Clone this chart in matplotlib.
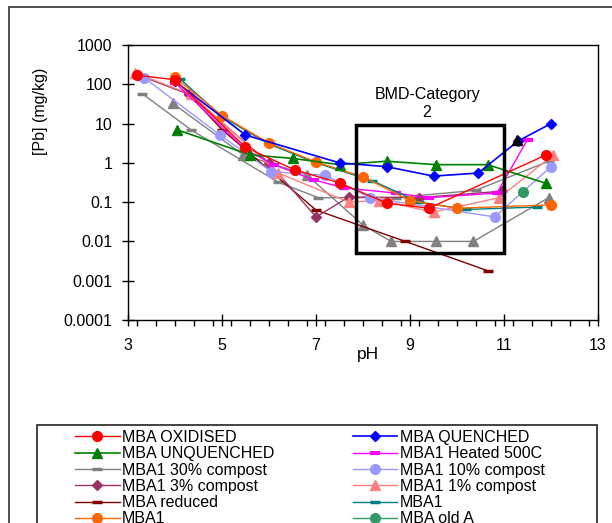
import numpy as np
import matplotlib
matplotlib.use("Agg")
import matplotlib.pyplot as plt
from matplotlib.patches import Rectangle
from matplotlib.ticker import FixedLocator, MultipleLocator, FuncFormatter

plt.rcParams['font.family'] = ['Liberation Sans', 'DejaVu Sans']

# pH / [Pb] (mg/kg)
ox_ph = [3.2, 4.0, 5.5, 6.55, 7.5, 8.5, 9.4, 11.9]
ox_pb = [170, 130, 2.5, 0.66, 0.31, 0.095, 0.07, 1.6]

qu_ph = [4.0, 5.5, 7.5, 8.5, 9.5, 10.45, 11.3, 12.0]
qu_pb = [120, 5.1, 1.0, 0.8, 0.46, 0.55, 3.6, 10.0]

unq_ph = [4.05, 5.6, 6.5, 7.5, 8.5, 9.55, 10.65, 11.9]
unq_pb = [6.9, 1.6, 1.3, 0.9, 1.1, 0.9, 0.9, 0.3]

heat_ph = [4.0, 5.5, 6.1, 6.95, 7.6, 8.7, 9.4, 10.85, 11.5]
heat_pb = [110, 2.2, 0.9, 0.37, 0.23, 0.17, 0.13, 0.17, 3.9]

c30_ph = [3.3, 4.35, 6.2, 7.05, 8.7, 10.4, 11.95]
c30_pb = [58, 6.8, 0.32, 0.13, 0.13, 0.2, 1.1]

c10_ph = [3.35, 4.95, 6.05, 7.2, 8.15, 10.8, 12.0]
c10_pb = [145, 5.2, 0.6, 0.48, 0.13, 0.042, 0.8]

c3_ph = [3.2, 4.3, 6.0, 7.0, 7.7, 9.2, 10.95]
c3_pb = [175, 55, 1.0, 0.042, 0.135, 0.13, 0.19]

c1_ph = [3.15, 4.35, 6.2, 7.7, 8.35, 9.5, 10.9, 12.05]
c1_pb = [195, 55, 0.55, 0.1, 0.11, 0.056, 0.13, 1.6]

red_ph = [4.3, 5.0, 7.0, 8.9, 10.65]
red_pb = [55, 7.0, 0.063, 0.01, 0.0018]

teal_ph = [4.1, 5.0, 6.0, 7.0, 8.2, 9.2, 10.2, 11.7]
teal_pb = [140, 15, 3.0, 1.0, 0.35, 0.1, 0.065, 0.075]

mba1_ph = [4.0, 5.0, 6.0, 7.0, 8.0, 9.0, 10.0, 12.0]
mba1_pb = [150, 16, 3.2, 1.05, 0.44, 0.11, 0.07, 0.085]

olda_ph = [11.4]
olda_pb = [0.18]

gtri_ph = [3.95, 5.45, 6.8, 8.0, 8.6, 9.55, 10.35, 11.95]
gtri_pb = [33, 1.6, 0.5, 0.026, 0.01, 0.01, 0.01, 0.13]

blk_ph = [11.28]
blk_pb = [3.8]

fig = plt.figure(figsize=(6.12, 5.23), dpi=100)
ax = fig.add_axes([128/612, 1-320/523, 470/612, 275/523])

lines = {}
def series(key, x, y, color, marker, ms=7, lw=1.0, label=None, mew=1.0):
    l, = ax.plot(x, y, color=color, marker=marker, markersize=ms, lw=lw,
                 markeredgewidth=mew, label=label)
    lines[key] = l

series('c30', c30_ph, c30_pb, '#808080', '_', ms=7, mew=2.5, label='MBA1 30% compost')
series('gtri', gtri_ph, gtri_pb, '#808080', '^', ms=7)
series('red', red_ph, red_pb, '#800000', '_', ms=7, mew=2.5, label='MBA reduced')
series('c3', c3_ph, c3_pb, '#993366', 'D', ms=5.5, label='MBA1 3% compost')
series('c1', c1_ph, c1_pb, '#FF8080', '^', ms=7, label='MBA1 1% compost')
series('c10', c10_ph, c10_pb, '#9999FF', 'o', ms=7, label='MBA1 10% compost')
series('heat', heat_ph, heat_pb, '#FF00FF', '_', ms=7, mew=3, label='MBA1 Heated 500C')
series('teal', teal_ph, teal_pb, '#008080', '_', ms=7, mew=2.5, label='MBA1')
series('mba1', mba1_ph, mba1_pb, '#FF6600', 'o', ms=7, label='MBA1')
series('unq', unq_ph, unq_pb, '#008000', '^', ms=7, lw=1.2, label='MBA UNQUENCHED')
series('qu', qu_ph, qu_pb, '#0000FF', 'D', ms=5.5, lw=1.2, label='MBA QUENCHED')
series('ox', ox_ph, ox_pb, '#FF0000', 'o', ms=7, label='MBA OXIDISED')
series('olda', olda_ph, olda_pb, '#339966', 'o', ms=7, label='MBA old A')
series('blk', blk_ph, blk_pb, 'black', '^', ms=7)

ax.set_yscale('log')
ax.set_xlim(3, 13)
ax.set_ylim(1e-4, 1e3)
ax.xaxis.set_major_locator(FixedLocator([3, 5, 7, 9, 11, 13]))
ax.xaxis.set_minor_locator(MultipleLocator(0.4))
ax.yaxis.set_major_locator(FixedLocator([1e-4, 1e-3, 1e-2, 1e-1, 1, 10, 100, 1000]))
ax.yaxis.set_minor_locator(FixedLocator([]))
ax.yaxis.set_major_formatter(FuncFormatter(lambda v, p: ('%g' % v) if v >= 1 else ('%.*f' % (int(round(-np.log10(v))), v))))
ax.tick_params(axis='both', which='major', direction='inout', length=8, width=1, labelsize=11.5)
ax.tick_params(axis='x', which='minor', direction='out', length=4, width=1)
ax.tick_params(axis='x', which='major', pad=9)
ax.tick_params(axis='y', which='major', pad=7)
for s in ax.spines.values():
    s.set_linewidth(1)

ax.set_xlabel('pH', fontsize=12.5, va='center')
ax.xaxis.set_label_coords((368-128)/470, (320-354)/275)
ax.set_ylabel('[Pb] (mg/kg)', fontsize=11.5, va='center')
ax.yaxis.set_label_coords((40-128)/470, (320-111)/275)

# BMD category box
ax.add_patch(Rectangle((7.85, 0.005), 11-7.85, 9-0.005, fill=False, lw=2.5,
                       edgecolor='black', zorder=5))
ax.text(9.37, 54, 'BMD-Category', ha='center', va='center', fontsize=11.5)
ax.text(9.35, 19.5, '2', ha='center', va='center', fontsize=11.5)

# outer chart frame and legend box (cut off by the image edge)
fig.patches.append(Rectangle((9/612, -0.2), 1.2, 1-7/523+0.2, transform=fig.transFigure,
                             fill=False, lw=1.2, edgecolor='#333333'))
fig.patches.append(Rectangle((37/612, -0.2), (597-37)/612, 1-425/523+0.2,
                             transform=fig.transFigure, fill=False, lw=1.2,
                             edgecolor='#222222'))

order = ['ox', 'unq', 'c30', 'c3', 'red', 'mba1', 'qu', 'heat', 'c10', 'c1', 'teal', 'olda']
fig.legend([lines[k] for k in order], [lines[k].get_label() for k in order],
           loc='upper left', bbox_to_anchor=(75/612, 1-430/523), ncol=2,
           frameon=False, borderpad=0, borderaxespad=0, fontsize=11.5,
           handlelength=2.8, handletextpad=0.15, columnspacing=4.9,
           labelspacing=0.08)

fig.savefig('out.png', dpi=100)
